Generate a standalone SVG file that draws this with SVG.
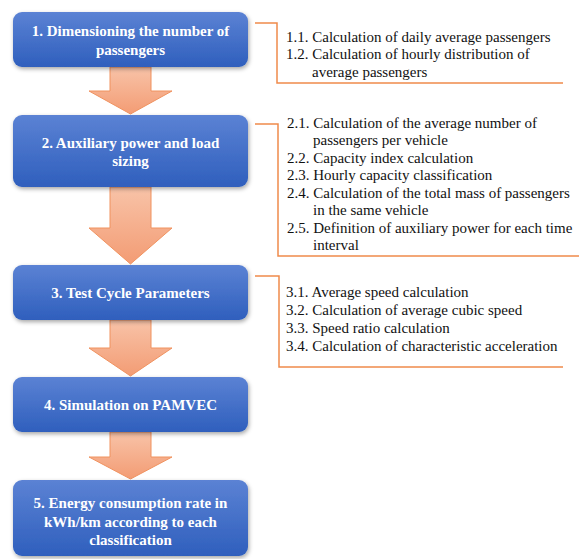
<svg xmlns="http://www.w3.org/2000/svg" width="579" height="559" viewBox="0 0 579 559">
<defs>
<linearGradient id="gBox" x1="0" y1="0" x2="0" y2="1">
<stop offset="0" stop-color="#5b82d4"/>
<stop offset="1" stop-color="#2f5fbd"/>
</linearGradient>
<linearGradient id="gArr" x1="0" y1="0" x2="0" y2="1">
<stop offset="0" stop-color="#f8c3a8"/>
<stop offset="1" stop-color="#f39c74"/>
</linearGradient>
<filter id="sh" x="-10%" y="-20%" width="125%" height="150%">
<feDropShadow dx="1" dy="2" stdDeviation="2" flood-color="#000" flood-opacity="0.35"/>
</filter>
</defs>
<style>
.box{fill:url(#gBox);filter:url(#sh);}
.arr{fill:url(#gArr);stroke:#f0925f;stroke-width:1;}
.bt{font-family:"Liberation Serif","Times New Roman",serif;font-weight:bold;font-size:15px;fill:#fff;text-anchor:middle;}
.st{font-family:"Liberation Serif","Times New Roman",serif;font-size:15px;fill:#111;}
.br{fill:none;stroke:#f08a4b;stroke-width:1.5;}
</style>
<rect width="579" height="559" fill="#fff"/>
<g id="connectors">
<polygon class="arr" points="110,67 151,67 151,91 172,91 130.5,114 89,91 110,91"/>
<polygon class="arr" points="110,187 151,187 151,228 172,228 130.5,264 89,228 110,228"/>
<polygon class="arr" points="110,320 151,320 151,348 172,348 130.5,376 89,348 110,348"/>
<polygon class="arr" points="110,432 151,432 151,457 172,457 130.5,479 89,457 110,457"/>
<path class="br" d="M255,23 H277 V83 H563"/>
<path class="br" d="M255,124 H278 V256 H579"/>
<path class="br" d="M255,276 H279 V367 H563"/>
</g>
<g id="node1">
<rect class="box" x="13" y="12" width="235" height="55" rx="9"/>
<text class="bt" x="130.5" y="36">1. Dimensioning the number of</text>
<text class="bt" x="130.5" y="55">passengers</text>
</g>
<g id="node2">
<rect class="box" x="13" y="115" width="235" height="72" rx="9"/>
<text class="bt" x="130.5" y="148">2. Auxiliary power and load</text>
<text class="bt" x="130.5" y="166">sizing</text>
</g>
<g id="node3">
<rect class="box" x="13" y="265" width="235" height="55" rx="9"/>
<text class="bt" x="130.5" y="298">3. Test Cycle Parameters</text>
</g>
<g id="node4">
<rect class="box" x="13" y="377" width="235" height="55" rx="9"/>
<text class="bt" x="130.5" y="410">4. Simulation on PAMVEC</text>
</g>
<g id="node5">
<rect class="box" x="13" y="480" width="235" height="76" rx="9"/>
<text class="bt" x="130.5" y="508">5. Energy consumption rate in</text>
<text class="bt" x="130.5" y="527">kWh/km according to each</text>
<text class="bt" x="130.5" y="545">classification</text>
</g>
<g id="list1">
<text class="st" x="286" y="41.5">1.1. Calculation of daily average passengers</text>
<text class="st" x="286" y="59">1.2. Calculation of hourly distribution of</text>
<text class="st" x="312" y="76.5">average passengers</text>
</g>
<g id="list2">
<text class="st" x="287" y="127.5">2.1. Calculation of the average number of</text>
<text class="st" x="313" y="145">passengers per vehicle</text>
<text class="st" x="287" y="162.5">2.2. Capacity index calculation</text>
<text class="st" x="287" y="180">2.3. Hourly capacity classification</text>
<text class="st" x="287" y="197.5">2.4. Calculation of the total mass of passengers</text>
<text class="st" x="313" y="215">in the same vehicle</text>
<text class="st" x="287" y="232.5">2.5. Definition of auxiliary power for each time</text>
<text class="st" x="313" y="250">interval</text>
</g>
<g id="list3">
<text class="st" x="286" y="297">3.1. Average speed calculation</text>
<text class="st" x="286" y="315">3.2. Calculation of average cubic speed</text>
<text class="st" x="286" y="333">3.3. Speed ratio calculation</text>
<text class="st" x="286" y="351">3.4. Calculation of characteristic acceleration</text>
</g>
</svg>
